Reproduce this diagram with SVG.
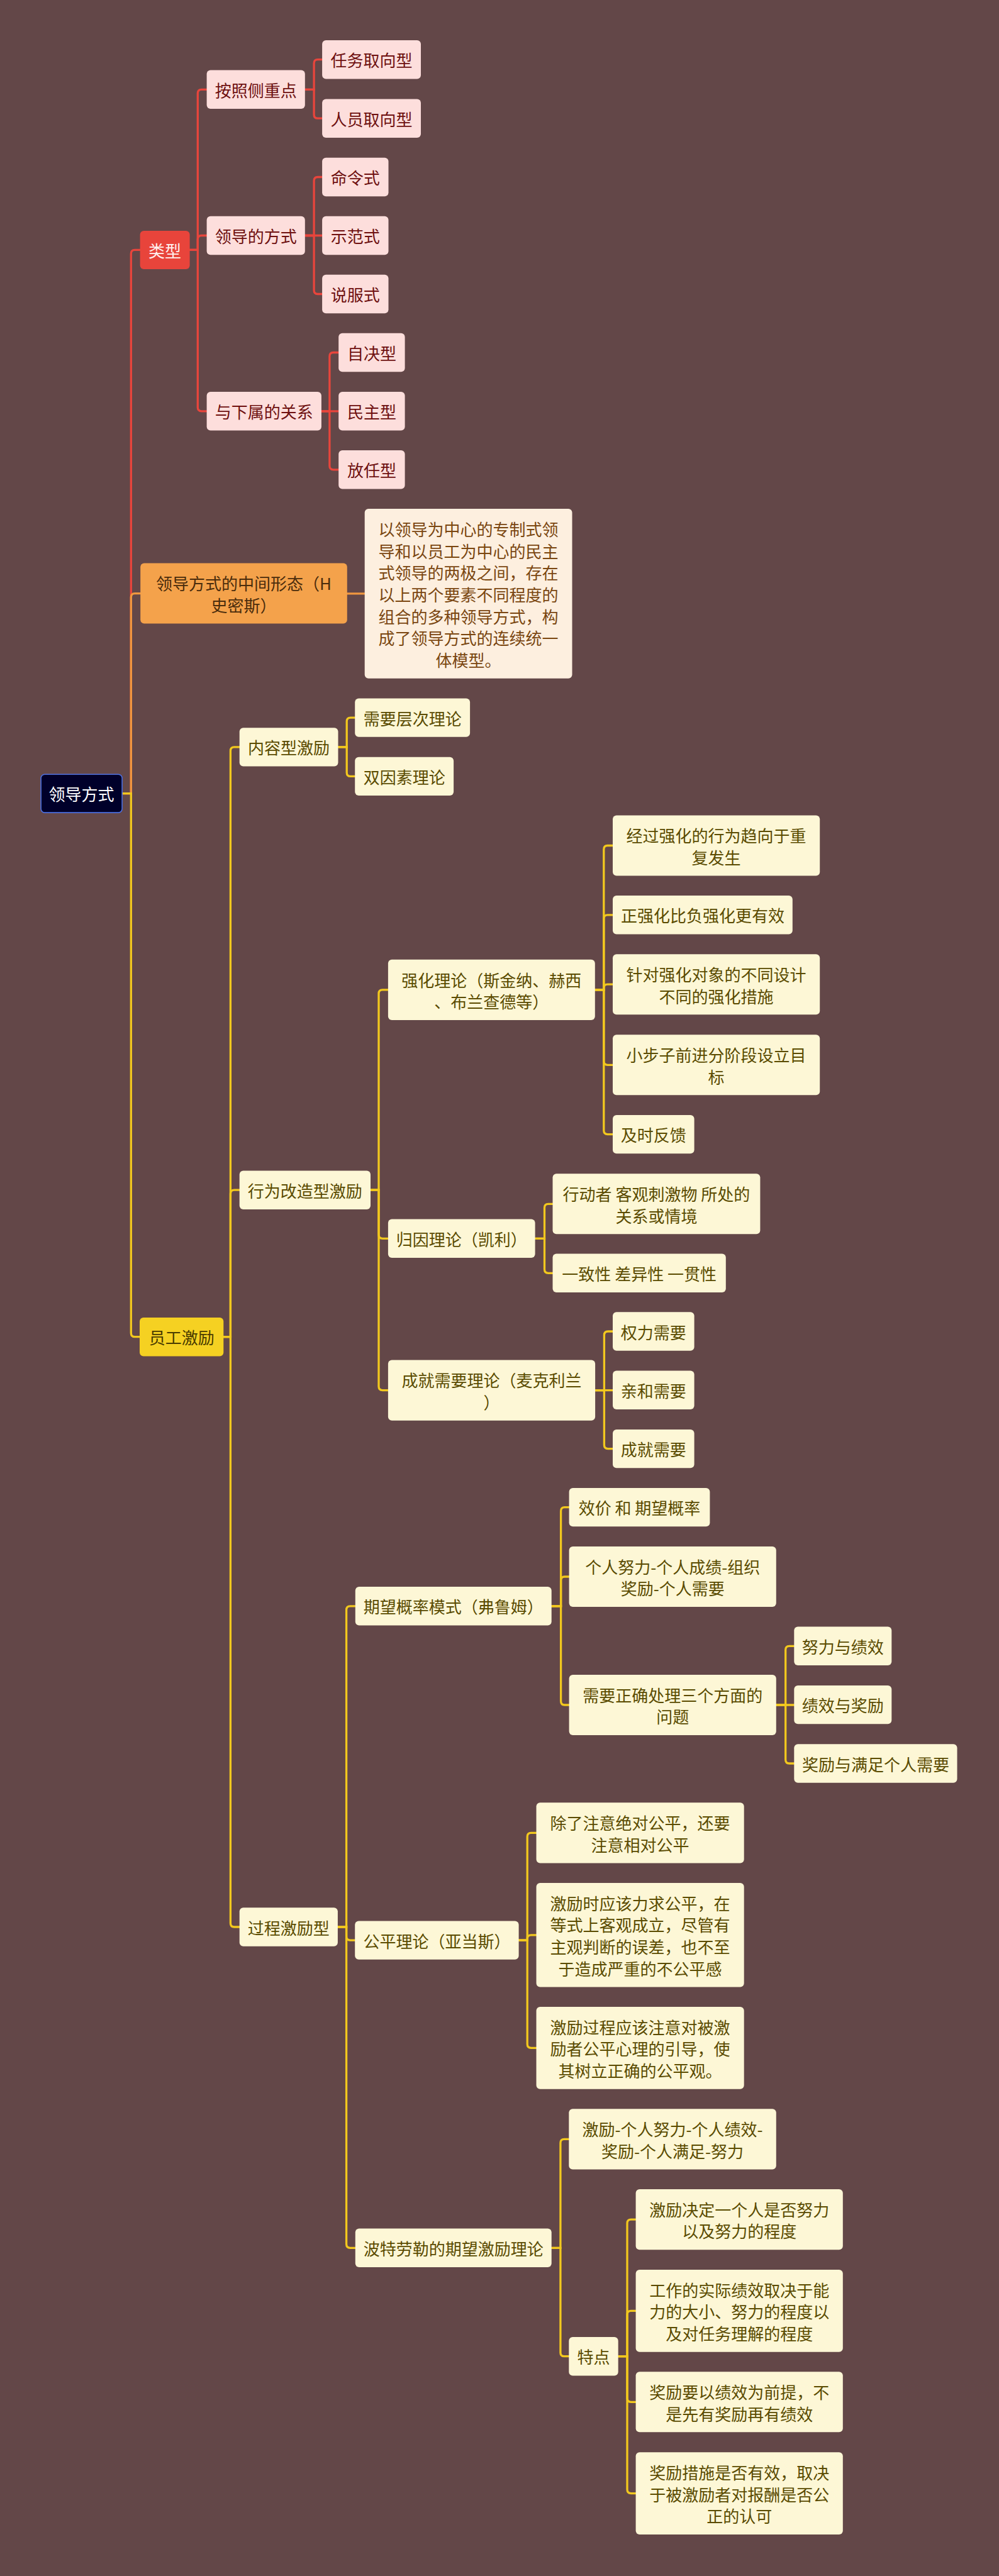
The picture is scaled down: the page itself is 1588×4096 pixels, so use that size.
<svg xmlns="http://www.w3.org/2000/svg" width="1588" height="4096" viewBox="0 0 1588 4096">
<style>
text{font-family:"Noto Sans CJK SC","Noto Sans",sans-serif;font-size:26px;text-anchor:middle;dominant-baseline:central}
tspan{dominant-baseline:central}
.root rect{fill:#00002a;stroke:#4d70e0;stroke-width:1.6}
.root text{fill:#ffffff}
.r1 rect{fill:#e8443b}
.r1 text{fill:#fff0ee}
.r2 rect{fill:#fddedc}
.r2 text{fill:#6e1010}
.o1 rect{fill:#f4a24b}
.o1 text{fill:#4a2c0c}
.o2 rect{fill:#fdefdf}
.o2 text{fill:#7a4610}
.y1 rect{fill:#f5d122}
.y1 text{fill:#4a3c00}
.y2 rect{fill:#fdf7d6}
.y2 text{fill:#5a4b00}
.c path{fill:none;stroke-width:3.3;stroke-linecap:round}
.cr path{stroke:#e8453c}
.co path{stroke:#f0973f}
.cy path{stroke:#f2c81e}
</style>
<rect x="0" y="0" width="1588" height="4096" fill="#634748"/>

<g id="connectors" class="c">
<g class="cr">
<path d="M194.1 1261.7 H208.3 V403.4 Q208.3 397.4 214.3 397.4 H222.6"/>
<path d="M301.6 397.4 H314.3 V148.3 Q314.3 142.3 320.3 142.3 H328.6"/>
<path d="M301.6 397.4 H314.3 V380.5 Q314.3 374.5 320.3 374.5 H328.6"/>
<path d="M301.6 397.4 H314.3 V647.8 Q314.3 653.8 320.3 653.8 H328.6"/>
<path d="M484.8 142.3 H499.1 V100.7 Q499.1 94.7 505.1 94.7 H512.1"/>
<path d="M484.8 142.3 H499.1 V182.2 Q499.1 188.2 505.1 188.2 H512.1"/>
<path d="M484.8 374.5 H499.1 V287.5 Q499.1 281.5 505.1 281.5 H512.1"/>
<path d="M484.8 374.5 H512.1"/>
<path d="M484.8 374.5 H499.1 V461.5 Q499.1 467.5 505.1 467.5 H512.1"/>
<path d="M510.9 653.8 H523.9 V566.5 Q523.9 560.5 529.9 560.5 H538.2"/>
<path d="M510.9 653.8 H538.2"/>
<path d="M510.9 653.8 H523.9 V740.8 Q523.9 746.8 529.9 746.8 H538.2"/>
</g>
<g class="co">
<path d="M194.1 1261.7 H208.3 V949.6 Q208.3 943.6 214.3 943.6 H223.2"/>
<path d="M551.8 943.8 H579.7"/>
</g>
<g class="cy">
<path d="M194.1 1261.7 H208.3 V2119.7 Q208.3 2125.7 214.3 2125.7 H222"/>
<path d="M355.3 2125.7 H366.4 V1193.9 Q366.4 1187.9 372.4 1187.9 H380.7"/>
<path d="M355.3 2125.7 H366.4 V1898.2 Q366.4 1892.2 372.4 1892.2 H380.7"/>
<path d="M355.3 2125.7 H366.4 V3058 Q366.4 3064 372.4 3064 H380.7"/>
<path d="M537.5 1187.9 H551.2 V1147.1 Q551.2 1141.1 557.2 1141.1 H564.2"/>
<path d="M537.5 1187.9 H551.2 V1228.4 Q551.2 1234.4 557.2 1234.4 H564.2"/>
<path d="M589 1892.2 H602 V1579.9 Q602 1573.9 608 1573.9 H616.9"/>
<path d="M589 1892.2 H602 V1963.3 Q602 1969.3 608 1969.3 H616.9"/>
<path d="M589 1892.2 H602 V2204.6 Q602 2210.6 608 2210.6 H616.9"/>
<path d="M945.8 1573.9 H959.8 V1350.5 Q959.8 1344.5 965.8 1344.5 H974"/>
<path d="M945.8 1573.9 H959.8 V1460.8 Q959.8 1454.8 965.8 1454.8 H974"/>
<path d="M945.8 1573.9 H959.8 V1571.2 Q959.8 1565.2 965.8 1565.2 H974"/>
<path d="M945.8 1573.9 H959.8 V1687.3 Q959.8 1693.3 965.8 1693.3 H974"/>
<path d="M945.8 1573.9 H959.8 V1797.6 Q959.8 1803.6 965.8 1803.6 H974"/>
<path d="M850.6 1969.3 H865.5 V1920.3 Q865.5 1914.3 871.5 1914.3 H878.5"/>
<path d="M850.6 1969.3 H865.5 V2018.3 Q865.5 2024.3 871.5 2024.3 H878.5"/>
<path d="M946.1 2210.6 H960.4 V2123 Q960.4 2117 966.4 2117 H974"/>
<path d="M946.1 2210.6 H974"/>
<path d="M946.1 2210.6 H960.4 V2297.6 Q960.4 2303.6 966.4 2303.6 H974"/>
<path d="M536.9 3064 H550.6 V2559.8 Q550.6 2553.8 556.6 2553.8 H564.8"/>
<path d="M536.9 3064 H550.6 V3079.1 Q550.6 3085.1 556.6 3085.1 H564.2"/>
<path d="M536.9 3064 H550.6 V3568.3 Q550.6 3574.3 556.6 3574.3 H564.8"/>
<path d="M876.7 2553.8 H891.6 V2402.6 Q891.6 2396.6 897.6 2396.6 H904.6"/>
<path d="M876.7 2553.8 H891.6 V2513 Q891.6 2507 897.6 2507 H904.6"/>
<path d="M876.7 2553.8 H891.6 V2705 Q891.6 2711 897.6 2711 H904.6"/>
<path d="M1233.8 2711 H1248.7 V2623.3 Q1248.7 2617.3 1254.7 2617.3 H1262.3"/>
<path d="M1233.8 2711 H1262.3"/>
<path d="M1233.8 2711 H1248.7 V2798 Q1248.7 2804 1254.7 2804 H1262.3"/>
<path d="M824.6 3085.1 H838.2 V2920.4 Q838.2 2914.4 844.2 2914.4 H852.5"/>
<path d="M824.6 3085.1 H838.2 V3082.8 Q838.2 3076.8 844.2 3076.8 H852.5"/>
<path d="M824.6 3085.1 H838.2 V3250.3 Q838.2 3256.3 844.2 3256.3 H852.5"/>
<path d="M876.7 3574.3 H890.9 V3407.4 Q890.9 3401.4 896.9 3401.4 H904.3"/>
<path d="M876.7 3574.3 H890.9 V3740.7 Q890.9 3746.7 896.9 3746.7 H904.3"/>
<path d="M982.7 3746.7 H997 V3535.1 Q997 3529.1 1003 3529.1 H1010.6"/>
<path d="M982.7 3746.7 H997 V3680.4 Q997 3674.4 1003 3674.4 H1010.6"/>
<path d="M982.7 3746.7 H997 V3813.3 Q997 3819.3 1003 3819.3 H1010.6"/>
<path d="M982.7 3746.7 H997 V3958.6 Q997 3964.6 1003 3964.6 H1010.6"/>
</g>
</g>

<g id="root" class="root"><rect x="65.1" y="1231.3" width="129" height="60.8" rx="6"/><text x="129.6" y="1261.7">领导方式</text></g>

<g id="n-leixing" class="r1"><rect x="222.6" y="366.9" width="79" height="61" rx="6"/><text x="262.1" y="397.4">类型</text></g>
<g id="n-anzhao" class="r2"><rect x="328.6" y="111.6" width="156.2" height="61.4" rx="6"/><text x="406.7" y="142.3">按照侧重点</text></g>
<g id="n-fangshi" class="r2"><rect x="328.6" y="343.8" width="156.2" height="61.4" rx="6"/><text x="406.7" y="374.5">领导的方式</text></g>
<g id="n-xiashu" class="r2"><rect x="328.6" y="623.1" width="182.3" height="61.4" rx="6"/><text x="419.75" y="653.8">与下属的关系</text></g>
<g id="n-renwu" class="r2"><rect x="512.1" y="64" width="156.9" height="61.4" rx="6"/><text x="590.55" y="94.7">任务取向型</text></g>
<g id="n-renyuan" class="r2"><rect x="512.1" y="157.5" width="156.9" height="61.4" rx="6"/><text x="590.55" y="188.2">人员取向型</text></g>
<g id="n-mingling" class="r2"><rect x="512.1" y="250.8" width="105.4" height="61.4" rx="6"/><text x="564.8" y="281.5">命令式</text></g>
<g id="n-shifan" class="r2"><rect x="512.1" y="343.8" width="105.4" height="61.4" rx="6"/><text x="564.8" y="374.5">示范式</text></g>
<g id="n-shuofu" class="r2"><rect x="512.1" y="436.8" width="105.4" height="61.4" rx="6"/><text x="564.8" y="467.5">说服式</text></g>
<g id="n-zijue" class="r2"><rect x="538.2" y="529.8" width="105.4" height="61.4" rx="6"/><text x="590.9" y="560.5">自决型</text></g>
<g id="n-minzhu" class="r2"><rect x="538.2" y="623.1" width="105.4" height="61.4" rx="6"/><text x="590.9" y="653.8">民主型</text></g>
<g id="n-fangren" class="r2"><rect x="538.2" y="716.1" width="105.4" height="61.4" rx="6"/><text x="590.9" y="746.8">放任型</text></g>

<g id="n-zhongjian" class="o1"><rect x="223.2" y="895.5" width="328.6" height="96.1" rx="6"/><text x="387.5"><tspan x="387.5" y="926.25">领导方式的中间形态（H</tspan><tspan x="387.5" y="960.95">史密斯）</tspan></text></g>
<g id="n-zhongjian-desc" class="o2"><rect x="579.7" y="809.1" width="329.8" height="269.6" rx="6"/><text x="744.6"><tspan x="744.6" y="839.85">以领导为中心的专制式领</tspan><tspan x="744.6" y="874.55">导和以员工为中心的民主</tspan><tspan x="744.6" y="909.25">式领导的两极之间，存在</tspan><tspan x="744.6" y="943.95">以上两个要素不同程度的</tspan><tspan x="744.6" y="978.65">组合的多种领导方式，构</tspan><tspan x="744.6" y="1013.35">成了领导方式的连续统一</tspan><tspan x="744.6" y="1048.05">体模型。</tspan></text></g>

<g id="n-yuangong" class="y1"><rect x="222" y="2095" width="133.3" height="61.4" rx="6"/><text x="288.65" y="2125.7">员工激励</text></g>
<g id="n-neirong" class="y2"><rect x="380.7" y="1157.2" width="156.8" height="61.4" rx="6"/><text x="459.1" y="1187.9">内容型激励</text></g>
<g id="n-xuqiu" class="y2"><rect x="564.2" y="1110.4" width="182.9" height="61.4" rx="6"/><text x="655.65" y="1141.1">需要层次理论</text></g>
<g id="n-shuangyinsu" class="y2"><rect x="564.2" y="1203.7" width="156.9" height="61.4" rx="6"/><text x="642.65" y="1234.4">双因素理论</text></g>
<g id="n-xingwei" class="y2"><rect x="380.7" y="1861.5" width="208.3" height="61.4" rx="6"/><text x="484.85" y="1892.2">行为改造型激励</text></g>
<g id="n-qianghua" class="y2"><rect x="616.9" y="1525.85" width="328.9" height="96.1" rx="6"/><text x="781.35"><tspan x="781.35" y="1556.55">强化理论（斯金纳、赫西</tspan><tspan x="781.35" y="1591.25">、布兰查德等）</tspan></text></g>
<g id="n-q1" class="y2"><rect x="974" y="1296.45" width="329.2" height="96.1" rx="6"/><text x="1138.6"><tspan x="1138.6" y="1327.15">经过强化的行为趋向于重</tspan><tspan x="1138.6" y="1361.85">复发生</tspan></text></g>
<g id="n-q2" class="y2"><rect x="974" y="1424.1" width="285.8" height="61.4" rx="6"/><text x="1116.9" y="1454.8">正强化比负强化更有效</text></g>
<g id="n-q3" class="y2"><rect x="974" y="1517.15" width="329.2" height="96.1" rx="6"/><text x="1138.6"><tspan x="1138.6" y="1547.85">针对强化对象的不同设计</tspan><tspan x="1138.6" y="1582.55">不同的强化措施</tspan></text></g>
<g id="n-q4" class="y2"><rect x="974" y="1645.25" width="329.2" height="96.1" rx="6"/><text x="1138.6"><tspan x="1138.6" y="1675.95">小步子前进分阶段设立目</tspan><tspan x="1138.6" y="1710.65">标</tspan></text></g>
<g id="n-q5" class="y2"><rect x="974" y="1772.9" width="129.6" height="61.4" rx="6"/><text x="1038.8" y="1803.6">及时反馈</text></g>
<g id="n-guiyin" class="y2"><rect x="616.9" y="1938.6" width="233.7" height="61.4" rx="6"/><text x="733.75" y="1969.3">归因理论（凯利）</text></g>
<g id="n-g1" class="y2"><rect x="878.5" y="1866.25" width="329.9" height="96.1" rx="6"/><text x="1043.45"><tspan x="1043.45" y="1896.95">行动者 客观刺激物 所处的</tspan><tspan x="1043.45" y="1931.65">关系或情境</tspan></text></g>
<g id="n-g2" class="y2"><rect x="878.5" y="1993.6" width="275.3" height="61.4" rx="6"/><text x="1016.15" y="2024.3">一致性 差异性 一贯性</text></g>
<g id="n-chengjiu" class="y2"><rect x="616.9" y="2162.55" width="329.2" height="96.1" rx="6"/><text x="781.5"><tspan x="781.5" y="2193.25">成就需要理论（麦克利兰</tspan><tspan x="781.5" y="2227.95">）</tspan></text></g>
<g id="n-c1" class="y2"><rect x="974" y="2086.3" width="129.6" height="61.4" rx="6"/><text x="1038.8" y="2117">权力需要</text></g>
<g id="n-c2" class="y2"><rect x="974" y="2179.6" width="129.6" height="61.4" rx="6"/><text x="1038.8" y="2210.3">亲和需要</text></g>
<g id="n-c3" class="y2"><rect x="974" y="2272.9" width="129.6" height="61.4" rx="6"/><text x="1038.8" y="2303.6">成就需要</text></g>
<g id="n-guocheng" class="y2"><rect x="380.7" y="3033.3" width="156.2" height="61.4" rx="6"/><text x="458.8" y="3064">过程激励型</text></g>
<g id="n-qiwang" class="y2"><rect x="564.8" y="2523.1" width="311.9" height="61.4" rx="6"/><text x="720.75" y="2553.8">期望概率模式（弗鲁姆）</text></g>
<g id="n-e1" class="y2"><rect x="904.6" y="2365.9" width="223.8" height="61.4" rx="6"/><text x="1016.5" y="2396.6">效价 和 期望概率</text></g>
<g id="n-e2" class="y2"><rect x="904.6" y="2458.95" width="329.2" height="96.1" rx="6"/><text x="1069.2"><tspan x="1069.2" y="2489.65">个人努力-个人成绩-组织</tspan><tspan x="1069.2" y="2524.35">奖励-个人需要</tspan></text></g>
<g id="n-e3" class="y2"><rect x="904.6" y="2662.95" width="329.2" height="96.1" rx="6"/><text x="1069.2"><tspan x="1069.2" y="2693.65">需要正确处理三个方面的</tspan><tspan x="1069.2" y="2728.35">问题</tspan></text></g>
<g id="n-e31" class="y2"><rect x="1262.3" y="2586.6" width="155" height="61.4" rx="6"/><text x="1339.8" y="2617.3">努力与绩效</text></g>
<g id="n-e32" class="y2"><rect x="1262.3" y="2679.9" width="155" height="61.4" rx="6"/><text x="1339.8" y="2710.6">绩效与奖励</text></g>
<g id="n-e33" class="y2"><rect x="1262.3" y="2773.3" width="259.2" height="61.4" rx="6"/><text x="1391.9" y="2804">奖励与满足个人需要</text></g>
<g id="n-gongping" class="y2"><rect x="564.2" y="3054.4" width="260.4" height="61.4" rx="6"/><text x="694.4" y="3085.1">公平理论（亚当斯）</text></g>
<g id="n-p1" class="y2"><rect x="852.5" y="2866.35" width="330.2" height="96.1" rx="6"/><text x="1017.6"><tspan x="1017.6" y="2897.05">除了注意绝对公平，还要</tspan><tspan x="1017.6" y="2931.75">注意相对公平</tspan></text></g>
<g id="n-p2" class="y2"><rect x="852.5" y="2994.05" width="330.2" height="165.5" rx="6"/><text x="1017.6"><tspan x="1017.6" y="3024.75">激励时应该力求公平，在</tspan><tspan x="1017.6" y="3059.45">等式上客观成立，尽管有</tspan><tspan x="1017.6" y="3094.15">主观判断的误差，也不至</tspan><tspan x="1017.6" y="3128.85">于造成严重的不公平感</tspan></text></g>
<g id="n-p3" class="y2"><rect x="852.5" y="3190.9" width="330.2" height="130.8" rx="6"/><text x="1017.6"><tspan x="1017.6" y="3221.6">激励过程应该注意对被激</tspan><tspan x="1017.6" y="3256.3">励者公平心理的引导，使</tspan><tspan x="1017.6" y="3291">其树立正确的公平观。</tspan></text></g>
<g id="n-bote" class="y2"><rect x="564.8" y="3543.6" width="311.9" height="61.4" rx="6"/><text x="720.75" y="3574.3">波特劳勒的期望激励理论</text></g>
<g id="n-b1" class="y2"><rect x="904.3" y="3353.35" width="329.5" height="96.1" rx="6"/><text x="1069.05"><tspan x="1069.05" y="3384.05">激励-个人努力-个人绩效-</tspan><tspan x="1069.05" y="3418.75">奖励-个人满足-努力</tspan></text></g>
<g id="n-tedian" class="y2"><rect x="904.3" y="3716" width="78.4" height="61.4" rx="6"/><text x="943.5" y="3746.7">特点</text></g>
<g id="n-t1" class="y2"><rect x="1010.6" y="3481.05" width="329.2" height="96.1" rx="6"/><text x="1175.2"><tspan x="1175.2" y="3511.75">激励决定一个人是否努力</tspan><tspan x="1175.2" y="3546.45">以及努力的程度</tspan></text></g>
<g id="n-t2" class="y2"><rect x="1010.6" y="3609" width="329.2" height="130.8" rx="6"/><text x="1175.2"><tspan x="1175.2" y="3639.7">工作的实际绩效取决于能</tspan><tspan x="1175.2" y="3674.4">力的大小、努力的程度以</tspan><tspan x="1175.2" y="3709.1">及对任务理解的程度</tspan></text></g>
<g id="n-t3" class="y2"><rect x="1010.6" y="3771.25" width="329.2" height="96.1" rx="6"/><text x="1175.2"><tspan x="1175.2" y="3801.95">奖励要以绩效为前提，不</tspan><tspan x="1175.2" y="3836.65">是先有奖励再有绩效</tspan></text></g>
<g id="n-t4" class="y2"><rect x="1010.6" y="3899.2" width="329.2" height="130.8" rx="6"/><text x="1175.2"><tspan x="1175.2" y="3929.9">奖励措施是否有效，取决</tspan><tspan x="1175.2" y="3964.6">于被激励者对报酬是否公</tspan><tspan x="1175.2" y="3999.3">正的认可</tspan></text></g>
</svg>
